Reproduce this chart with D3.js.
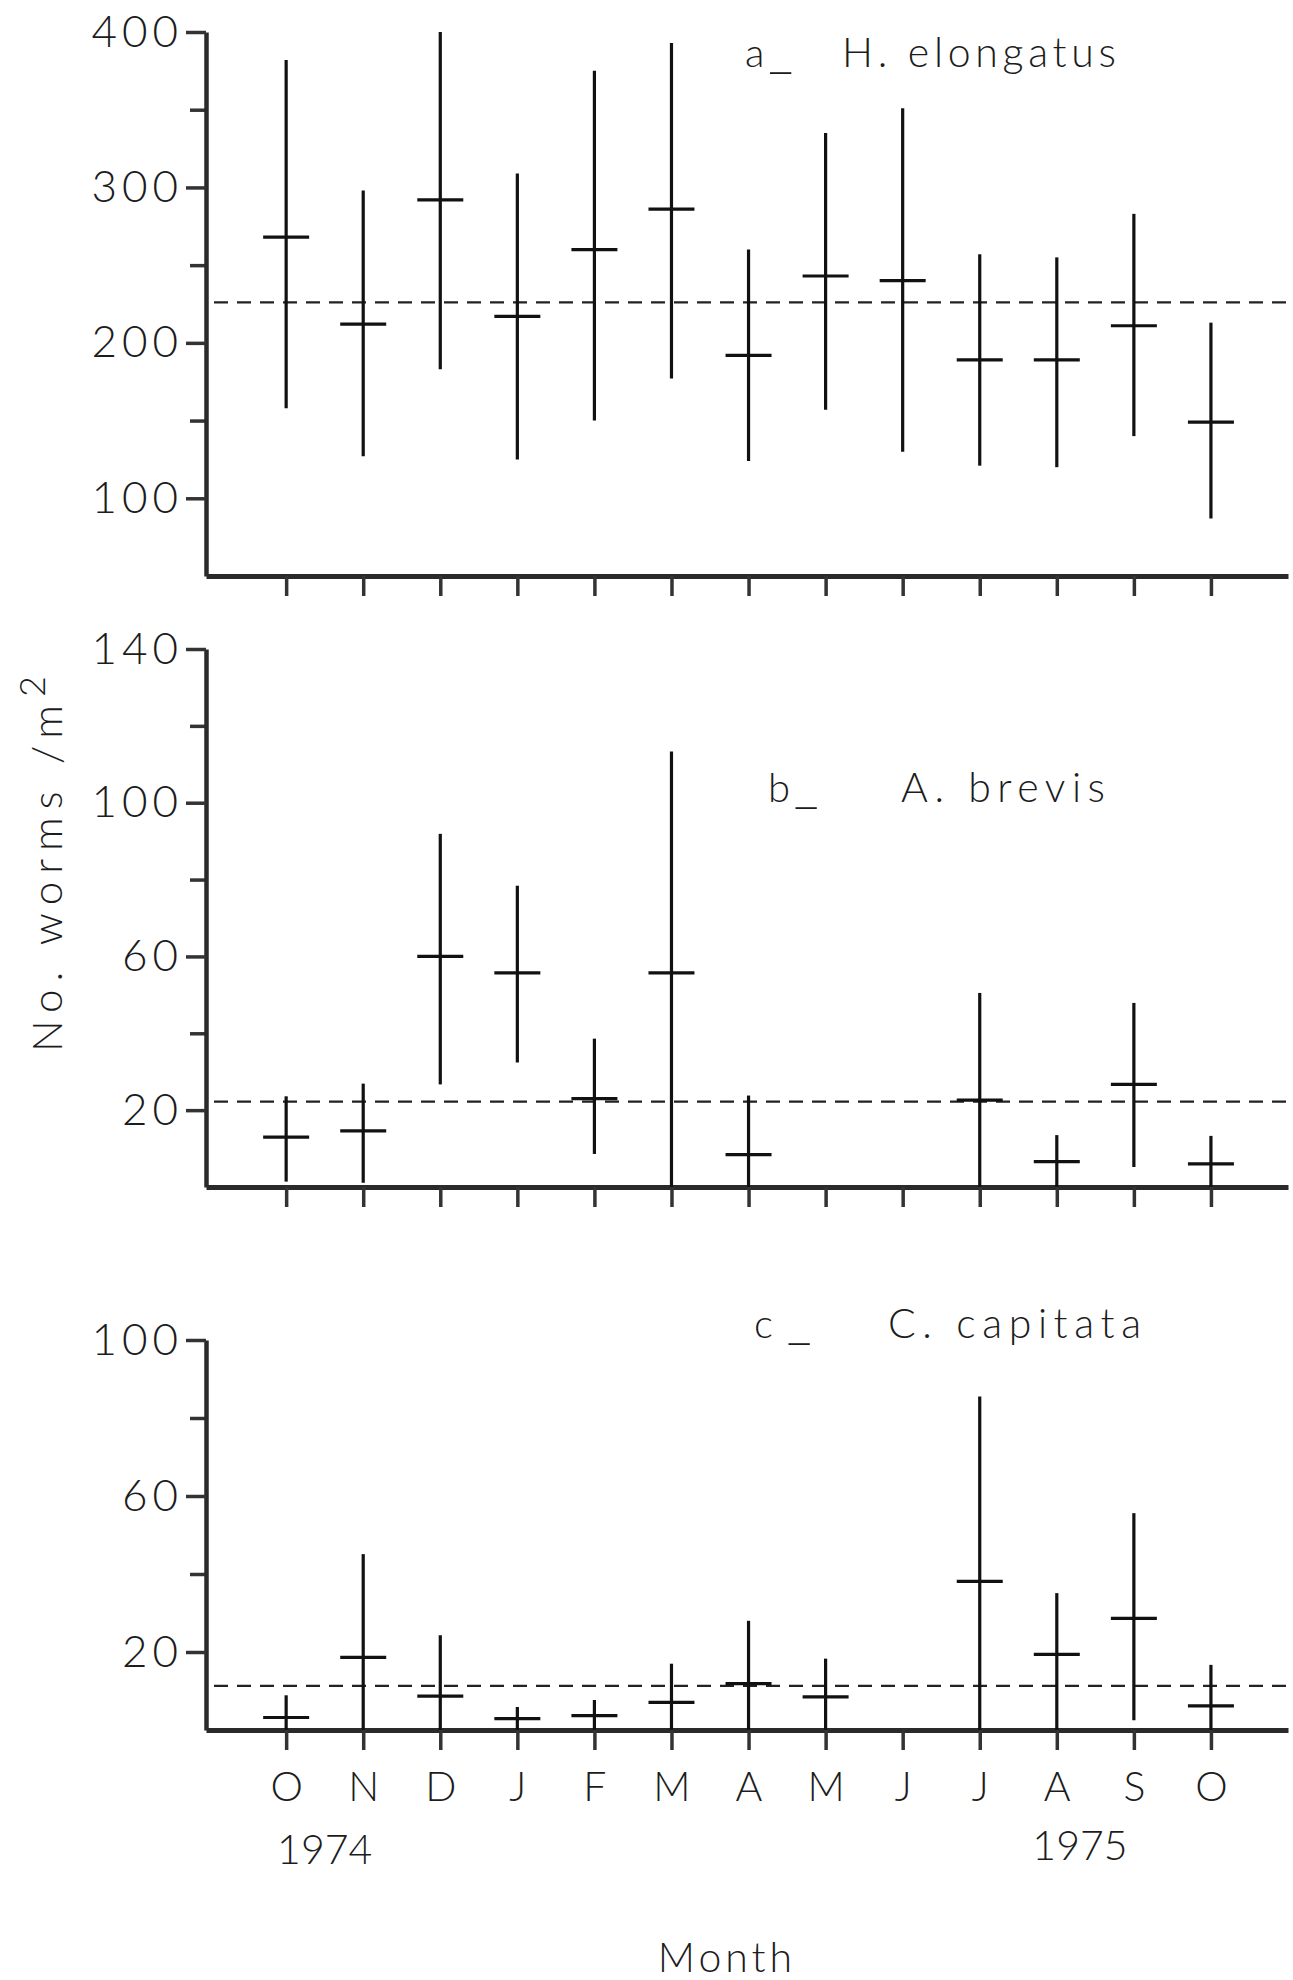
<!DOCTYPE html>
<html>
<head>
<meta charset="utf-8">
<script src="https://cdn.jsdelivr.net/npm/d3@7"></script>
<style>
    body { margin: 0; background: #fff; }
    svg text { font-family: Lato, "Open Sans", "DejaVu Sans", sans-serif; font-weight: 300; fill: #1c1c1c; }
</style>
</head>
<body>
<div id="chart"></div>
<script>
// months Oct 1974 .. Oct 1975
var months = ['O', 'N', 'D', 'J', 'F', 'M', 'A', 'M', 'J', 'J', 'A', 'S', 'O'];

// a - H. elongatus
var elongatusMean = [268, 212, 292, 217, 260, 286, 192, 243, 240, 189, 189, 211, 149];
var elongatusLow = [158, 127, 183, 125, 150, 177, 124, 157, 130, 121, 120, 140, 87];
var elongatusHigh = [382, 298, 400, 309, 375, 393, 260, 335, 351, 257, 255, 283, 213];
var elongatusOverall = 226;
var elongatusTicks = [100, 200, 300, 400];
var elongatusMinor = [150, 250, 350];

// b - A. brevis (no samples in May / June)
var brevisMean = [13, 14.6, 60, 55.7, 23, 55.7, 8.4, null, null, 22.6, 6.6, 26.7, 6];
var brevisLow = [1.4, 1.1, 26.7, 32.4, 8.6, 0, 0, null, null, 0, 0, 5.2, 0];
var brevisHigh = [23.6, 26.9, 91.9, 78.4, 38.6, 113.3, 23.8, null, null, 50.5, 13.5, 47.9, 13.3];
var brevisOverall = 22.2;
var brevisTicks = [20, 60, 100, 140];
var brevisMinor = [40, 80, 120];

// c - C. capitata (no sample in June)
var capitataMean = [3.2, 18.6, 8.7, 2.9, 3.7, 7.1, 11.9, 8.5, null, 38.1, 19.4, 28.6, 6.2];
var capitataLow = [0, 0, 0, 0, 0, 0, 0, 0, null, 0, 0, 2.5, 0];
var capitataHigh = [8.9, 45.1, 24.3, 5.9, 7.7, 17, 28, 18.3, null, 85.5, 35.1, 55.6, 16.7];
var capitataOverall = 11.3;
var capitataTicks = [20, 60, 100];
var capitataMinor = [40, 80];

var width = 1293, height = 1980;

var svg = d3.select('#chart').append('svg')
    .attr('width', width)
    .attr('height', height);

var x = d3.scaleLinear().domain([-1.04, 13]).range([206, 1288]);

var panels = [
    { mean: elongatusMean, low: elongatusLow, high: elongatusHigh, overall: elongatusOverall,
      ticks: elongatusTicks, minor: elongatusMinor, domain: [50, 400], range: [576, 32],
      letter: 'a', gap: 4, species: 'H. elongatus', tx: 745, sx: 842, sw: 274, ty: 67 },
    { mean: brevisMean, low: brevisLow, high: brevisHigh, overall: brevisOverall,
      ticks: brevisTicks, minor: brevisMinor, domain: [0, 140], range: [1187, 649],
      letter: 'b', gap: 4, species: 'A. brevis', tx: 768, sx: 901, sw: 204, ty: 802 },
    { mean: capitataMean, low: capitataLow, high: capitataHigh, overall: capitataOverall,
      ticks: capitataTicks, minor: capitataMinor, domain: [0, 100], range: [1730, 1340],
      letter: 'c', gap: 14, species: 'C. capitata', tx: 754, sx: 888, sw: 253, ty: 1338, labels: true }
];

panels.forEach(function (p) {
    var g = svg.append('g'),
        y = d3.scaleLinear().domain(p.domain).range(p.range),
        idx = d3.range(months.length).filter(function (i) { return p.mean[i] != null; });

    // minor y ticks
    g.append('g')
        .attr('transform', 'translate(' + x.range()[0] + ',0)')
        .call(d3.axisLeft(y).tickValues(p.minor).tickSize(16).tickFormat(''))
        .call(function (a) { a.select('.domain').remove(); })
        .selectAll('line').attr('stroke', '#333').attr('stroke-width', 3.5);

    // major y ticks + axis line
    var ya = g.append('g')
        .attr('transform', 'translate(' + x.range()[0] + ',0)')
        .call(d3.axisLeft(y).tickValues(p.ticks).tickSize(20).tickSizeOuter(0).tickPadding(3));
    ya.select('.domain').attr('stroke', '#2a2a2a').attr('stroke-width', 4.5);
    ya.selectAll('line').attr('stroke', '#333').attr('stroke-width', 3.5);
    ya.selectAll('text').style('font-size', '44px').style('letter-spacing', '5px');

    // x axis
    var xa = g.append('g')
        .attr('transform', 'translate(0,' + p.range[0] + ')')
        .call(d3.axisBottom(x).tickValues(d3.range(months.length)).tickSize(20).tickSizeOuter(0)
            .tickPadding(22)
            .tickFormat(function (i) { return p.labels ? months[i] : ''; }));
    xa.select('.domain').attr('stroke', '#2a2a2a').attr('stroke-width', 5);
    xa.selectAll('line').attr('stroke', '#333').attr('stroke-width', 3.5);
    xa.selectAll('text').style('font-size', '41px');

    // overall mean, dashed
    g.append('line')
        .attr('x1', 214).attr('x2', width)
        .attr('y1', y(p.overall)).attr('y2', y(p.overall))
        .attr('stroke', '#222').attr('stroke-width', 2.2)
        .attr('stroke-dasharray', '14,9');

    // ranges
    g.selectAll('line.range').data(idx).join('line')
        .attr('class', 'range')
        .attr('x1', function (i) { return x(i); })
        .attr('x2', function (i) { return x(i); })
        .attr('y1', function (i) { return y(p.low[i]); })
        .attr('y2', function (i) { return y(p.high[i]); })
        .attr('stroke', '#111').attr('stroke-width', 3.2);

    // means
    g.selectAll('line.mean').data(idx).join('line')
        .attr('class', 'mean')
        .attr('x1', function (i) { return x(i) - 23; })
        .attr('x2', function (i) { return x(i) + 23; })
        .attr('y1', function (i) { return y(p.mean[i]); })
        .attr('y2', function (i) { return y(p.mean[i]); })
        .attr('stroke', '#111').attr('stroke-width', 3.2);

    // panel title: letter, long underscore, species name
    var t = g.append('text').attr('x', p.tx).attr('y', p.ty).style('font-size', '40px');
    t.append('tspan').text(p.letter);
    t.append('tspan').attr('dx', p.gap).style('font-size', '54px').text('_');
    g.append('text').attr('x', p.sx).attr('y', p.ty)
        .attr('textLength', p.sw).attr('lengthAdjust', 'spacing')
        .style('font-size', '41px').text(p.species);
});

// years under month labels
svg.append('text').attr('x', x(0.5)).attr('y', 1864)
    .attr('text-anchor', 'middle').style('font-size', '41px').text('1974');
svg.append('text').attr('x', x(10.3)).attr('y', 1860)
    .attr('text-anchor', 'middle').style('font-size', '41px').text('1975');

svg.append('text').attr('x', 727).attr('y', 1972)
    .attr('text-anchor', 'middle').style('font-size', '41px').style('letter-spacing', '4px')
    .text('Month');

var ylab = svg.append('text')
    .attr('transform', 'translate(62,860) rotate(-90)')
    .attr('text-anchor', 'middle')
    .style('font-size', '42px').style('letter-spacing', '8px');
ylab.append('tspan').text('No. worms /m');
ylab.append('tspan').attr('dy', -17).style('font-size', '36px').text('2');
</script>
</body>
</html>
